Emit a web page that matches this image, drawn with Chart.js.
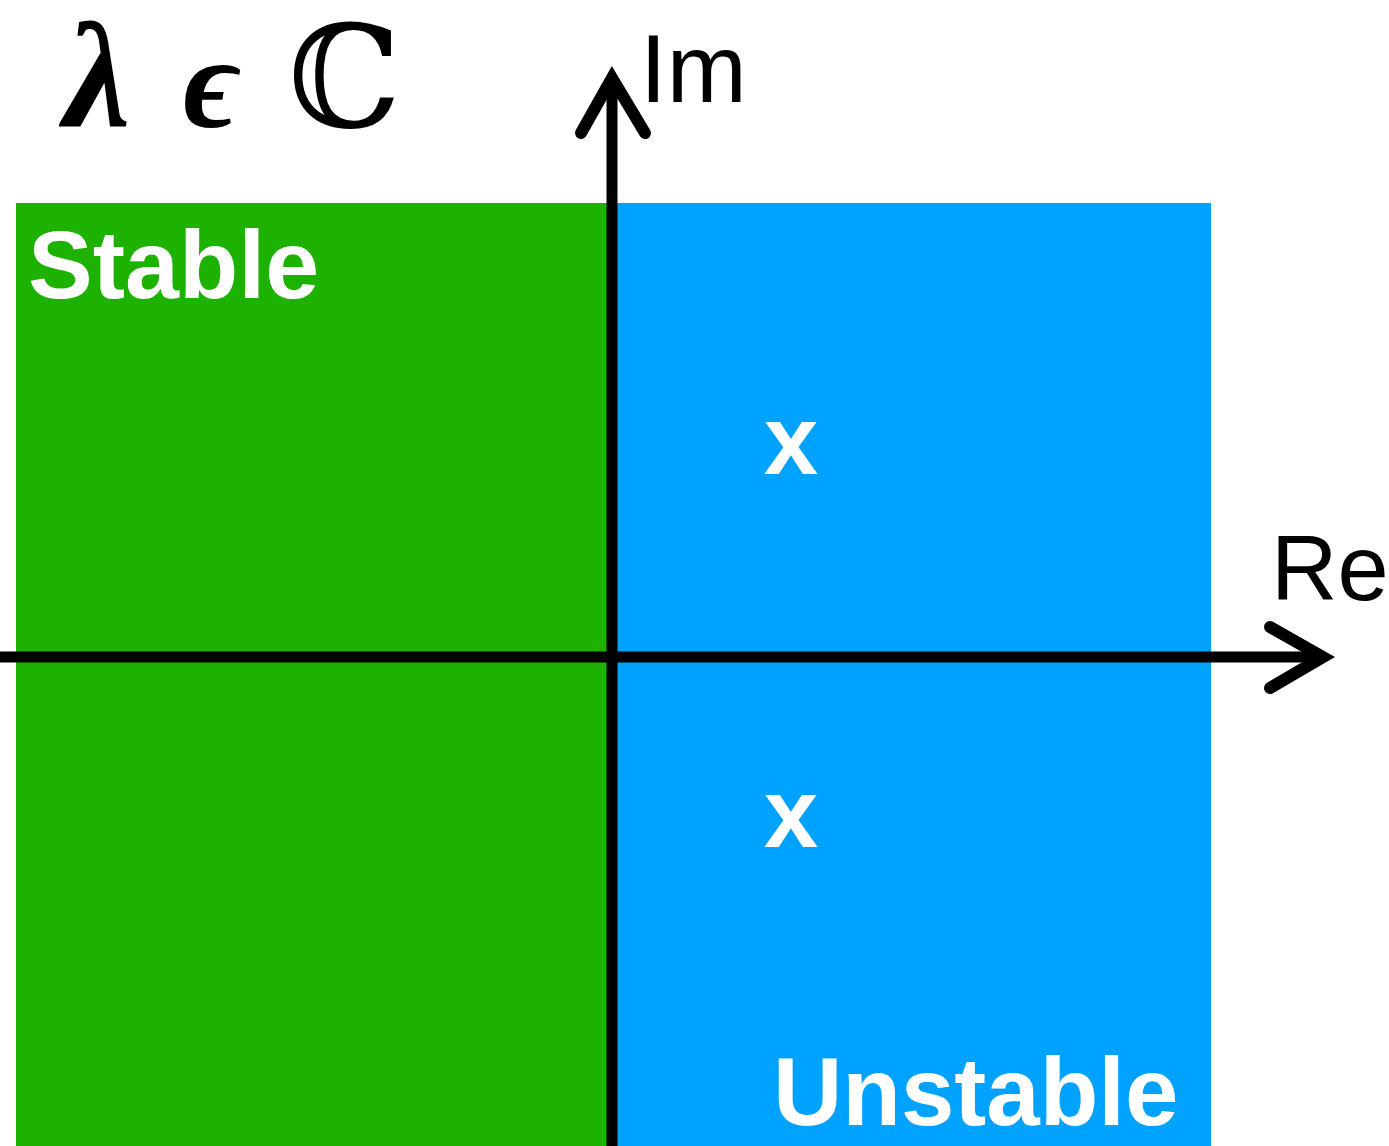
<!DOCTYPE html>
<html>
<head>
<meta charset="utf-8">
<script src="https://cdn.jsdelivr.net/npm/chart.js@4.4.1/dist/chart.umd.min.js"></script>
<style>
	body { margin: 0; background: #fff; }
	canvas { display: block; }
</style>
</head>
<body>
<canvas id="plane" width="1389" height="1146"></canvas>
<script>
// complex plane window (Re, Im)
var reRange = [-6.12, 7.77];
var imRange = [-4.89, 6.57];

// half-plane regions: [reFrom, reTo, imTop]
var stableRegion = [-5.96, 0, 4.54];
var unstableRegion = [0, 5.99, 4.54];

// eigenvalues (Re, Im)
var eigenRe = [1.79, 1.79];
var eigenIm = [2.08, -1.65];

// axis tips
var reAxisTip = 7.11;
var imAxisTip = 5.79;

var green = '#1DB100';
var blue = '#00A2FF';

function regionLine(r) {
	return [{x: r[0], y: r[2]}, {x: r[1], y: r[2]}];
}

var eigenPoints = eigenRe.map(function(re, i) {
	return {x: re, y: eigenIm[i]};
});

var labelPlugin = {
	id: 'labels',
	afterDatasetsDraw: function(chart) {
		var ctx = chart.ctx;
		var xs = chart.scales.x, ys = chart.scales.y;
		function put(txt, re, im, font, color) {
			ctx.font = font;
			ctx.fillStyle = color;
			ctx.fillText(txt, xs.getPixelForValue(re), ys.getPixelForValue(im));
		}
		ctx.save();
		ctx.textAlign = 'left';
		ctx.textBaseline = 'alphabetic';
		put('Stable', -5.84, 3.59, 'bold 97px "Liberation Sans", Arial, sans-serif', '#fff');
		put('Unstable', 1.61, -4.68, 'bold 96px "Liberation Sans", Arial, sans-serif', '#fff');
		put('Im', 0.28, 5.55, '96px "Liberation Sans", Arial, sans-serif', '#000');
		put('Re', 6.59, 0.57, '92px "Liberation Sans", Arial, sans-serif', '#000');
		put('\u03BB', -5.48, 5.30, 'italic bold 150px "Liberation Serif", "DejaVu Serif", serif', '#000');
		put('\u03F5', -4.29, 5.30, 'italic bold 132px "Liberation Serif", "DejaVu Serif", serif', '#000');
		put('\u2102', -3.24, 5.30, '142px "DejaVu Serif", serif', '#000');

		// eigenvalue marks
		var meta = chart.getDatasetMeta(4);
		ctx.textAlign = 'center';
		ctx.textBaseline = 'alphabetic';
		ctx.font = 'bold 98px "Liberation Sans", Arial, sans-serif';
		ctx.fillStyle = '#fff';
		meta.data.forEach(function(pt) {
			ctx.fillText('x', pt.x, pt.y + 25);
		});
		ctx.restore();
	}
};

var axisStyle = {
	borderColor: '#000',
	borderWidth: 11,
	pointRadius: 0,
	fill: false,
	showLine: true,
	borderCapStyle: 'butt',
	borderJoinStyle: 'miter',
	tension: 0,
	clip: false,
	order: 1
};

var arrowStyle = Object.assign({}, axisStyle, {borderWidth: 12, borderCapStyle: 'round'});

var ctx = document.getElementById('plane').getContext('2d');
new Chart(ctx, {
	type: 'scatter',
	data: {
		datasets: [{
			label: 'Stable',
			data: regionLine(stableRegion),
			showLine: true,
			borderWidth: 0,
			pointRadius: 0,
			backgroundColor: green,
			fill: {value: imRange[0]},
			order: 5
		}, {
			label: 'Unstable',
			data: regionLine(unstableRegion),
			showLine: true,
			borderWidth: 0,
			pointRadius: 0,
			backgroundColor: blue,
			fill: {value: imRange[0]},
			order: 5
		}, Object.assign({
			label: 'Re axis',
			data: [{x: reRange[0] - 0.1, y: 0}, {x: reAxisTip, y: 0}]
		}, axisStyle), Object.assign({
			label: 'Im axis',
			data: [{x: 0, y: imRange[0] - 0.1}, {x: 0, y: imAxisTip}]
		}, axisStyle), {
			label: 'Eigenvalues',
			data: eigenPoints,
			pointRadius: 0,
			showLine: false,
			order: 0
		}, Object.assign({
			label: 'Re arrow',
			data: [{x: 6.58, y: 0.30}, {x: reAxisTip, y: 0}, {x: 6.58, y: -0.31}]
		}, arrowStyle), Object.assign({
			label: 'Im arrow',
			data: [{x: -0.31, y: 5.24}, {x: 0, y: imAxisTip}, {x: 0.33, y: 5.24}]
		}, arrowStyle)]
	},
	options: {
		responsive: false,
		animation: false,
		devicePixelRatio: 1,
		layout: { padding: 0 },
		scales: {
			x: { type: 'linear', min: reRange[0], max: reRange[1], display: false },
			y: { type: 'linear', min: imRange[0], max: imRange[1], display: false }
		},
		plugins: {
			legend: { display: false },
			tooltip: { enabled: false }
		}
	},
	plugins: [labelPlugin]
});
</script>
</body>
</html>
